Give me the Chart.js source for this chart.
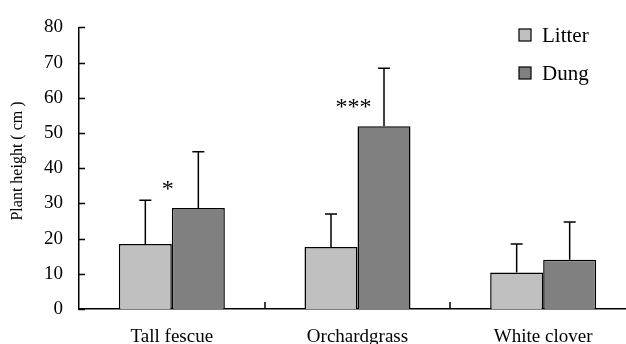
<!DOCTYPE html>
<html>
<head>
<meta charset="utf-8">
<script src="https://cdn.jsdelivr.net/npm/chart.js@4/dist/chart.umd.min.js"></script>
<style>
  html, body { margin: 0; padding: 0; background: #fff; overflow: hidden; }
  #wrap { width: 640px; height: 344px; }
</style>
</head>
<body>
<div id="wrap"><canvas id="c" width="640" height="344"></canvas></div>
<script>
const categories = ['Tall fescue', 'Orchardgrass', 'White clover'];
const seriesNames = ['Litter', 'Dung'];
const litterValues = [18.5, 17.6, 10.4];
const dungValues = [28.7, 51.9, 14.0];
const litterErrors = [12.4, 9.4, 8.1];
const dungErrors = [16.0, 16.5, 10.7];
const significance = ['*', '***', ''];
const yTicks = [0, 10, 20, 30, 40, 50, 60, 70, 80];
const yTitle = 'Plant height ( cm )';

const SERIF = '"Liberation Serif", "Times New Roman", serif';

const errorBars = {
  id: 'errorBars',
  afterDatasetsDraw(chart) {
    const ctx = chart.ctx;
    const y = chart.scales.y;
    const errs = [litterErrors, dungErrors];
    ctx.save();
    ctx.strokeStyle = '#000';
    ctx.lineWidth = 1.5;
    chart.data.datasets.forEach((ds, di) => {
      const meta = chart.getDatasetMeta(di);
      meta.data.forEach((bar, i) => {
        const top = y.getPixelForValue(ds.data[i] + errs[di][i]);
        const base = y.getPixelForValue(ds.data[i]);
        ctx.beginPath();
        ctx.moveTo(bar.x, base);
        ctx.lineTo(bar.x, top);
        ctx.moveTo(bar.x - 6, top);
        ctx.lineTo(bar.x + 6, top);
        ctx.stroke();
      });
    });
    ctx.fillStyle = '#000';
    ctx.font = '24px ' + SERIF;
    ctx.textAlign = 'center';
    ctx.textBaseline = 'alphabetic';
    const x = chart.scales.x;
    significance.forEach((s, i) => {
      if (!s) return;
      const cx = x.getPixelForValue(i) - 4;
      const by = y.getPixelForValue(dungValues[i]) - 12;
      ctx.fillText(s, cx, by);
    });
    ctx.restore();
  }
};

const innerTicks = {
  id: 'innerTicks',
  afterDraw(chart) {
    const ctx = chart.ctx;
    const x = chart.scales.x, y = chart.scales.y;
    const area = chart.chartArea;
    ctx.save();
    ctx.strokeStyle = '#000';
    ctx.lineWidth = 1.5;
    ctx.beginPath();
    yTicks.forEach(v => {
      const py = Math.round(y.getPixelForValue(v)) + 0.5;
      ctx.moveTo(area.left, py);
      ctx.lineTo(area.left + 6, py);
    });
    for (let i = 0; i < categories.length; i++) {
      const px = Math.round(x.getPixelForValue(i + 0.5));
      ctx.moveTo(px, area.bottom);
      ctx.lineTo(px, area.bottom - 7);
    }
    ctx.stroke();

    // y title
    ctx.save();
    ctx.translate(18, 161);
    ctx.rotate(-Math.PI / 2);
    ctx.font = '16px ' + SERIF;
    ctx.fillStyle = '#000';
    ctx.textAlign = 'center';
    ctx.textBaseline = 'middle';
    ctx.fillText(yTitle, 0, 0);
    ctx.restore();

    // legend
    ctx.font = '21px ' + SERIF;
    ctx.textAlign = 'left';
    ctx.textBaseline = 'middle';
    chart.data.datasets.forEach((ds, i) => {
      const cy = 35 + i * 38;
      ctx.fillStyle = ds.backgroundColor;
      ctx.fillRect(519, cy - 6, 12, 12);
      ctx.lineWidth = 1.2;
      ctx.strokeStyle = '#000';
      ctx.strokeRect(519, cy - 6, 12, 12);
      ctx.fillStyle = '#000';
      ctx.fillText(ds.label, 542, cy + 1);
    });
    ctx.restore();
  }
};

new Chart(document.getElementById('c'), {
  type: 'bar',
  data: {
    labels: categories,
    datasets: [
      { label: seriesNames[0], data: litterValues, backgroundColor: '#C0C0C0', borderColor: '#000', borderWidth: 1.5 },
      { label: seriesNames[1], data: dungValues, backgroundColor: '#808080', borderColor: '#000', borderWidth: 1.5 }
    ]
  },
  options: {
    responsive: false,
    animation: false,
    devicePixelRatio: 1,
    layout: { padding: { top: 22, right: 4, left: 0, bottom: 0 } },
    plugins: { legend: { display: false }, tooltip: { enabled: false } },
    datasets: { bar: { categoryPercentage: 0.571, barPercentage: 1.0 } },
    scales: {
      x: {
        grid: { display: false, drawTicks: false },
        border: { display: true, color: '#000', width: 1.5 },
        ticks: { color: '#000', font: { family: SERIF, size: 19 }, padding: 17 },
        afterFit(scale) { scale.height = 35; }
      },
      y: {
        min: 0, max: 80,
        afterBuildTicks(scale) { scale.ticks = yTicks.map(v => ({ value: v })); },
        grid: { display: false, drawTicks: false },
        border: { display: true, color: '#000', width: 1.5 },
        ticks: { color: '#000', font: { family: SERIF, size: 19 }, padding: 16 },
        afterFit(scale) { scale.width = 79; }
      }
    }
  },
  plugins: [errorBars, innerTicks]
});
</script>
</body>
</html>
